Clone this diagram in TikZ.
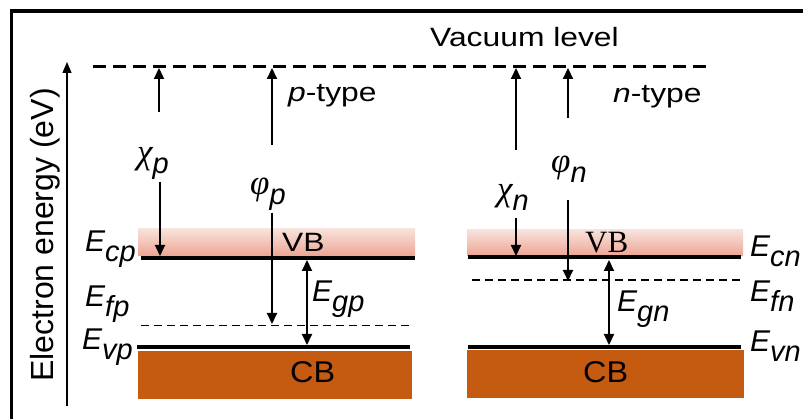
\documentclass[tikz,border=0pt]{standalone}
\usepackage{fontspec}
\setmainfont{Liberation Sans}
\newfontfamily\serifgr{Liberation Serif}
\usetikzlibrary{arrows.meta}
\definecolor{cbcol}{HTML}{C55A11}
\definecolor{vbtop}{HTML}{F8E2DB}
\definecolor{vbbot}{HTML}{EDA594}
\newcommand{\hst}[1]{\scalebox{1.2}[1]{#1}}
\newcommand{\elab}[1]{\fontsize{30}{30}\selectfont\itshape E\raisebox{-9.5pt}{\fontsize{29}{29}\selectfont #1}}
\newcommand{\glab}[2]{\fontsize{29}{29}\selectfont{\fontsize{35}{35}\selectfont\serifgr\itshape #1}\raisebox{-9.5pt}{\itshape #2}}
\tikzset{
  txt/.style={inner sep=0pt, anchor=base west},
  sanslab/.style={txt, font=\fontsize{26.5}{30}\selectfont},
  band/.style={line width=4pt},
  fermi/.style={line width=1.3pt, dash pattern=on 8pt off 5pt},
  vac/.style={line width=3.5pt, dash pattern=on 13pt off 7pt},
  arr/.style={line width=2pt, -{Triangle[length=11pt,width=10pt]}},
  darr/.style={line width=2pt, {Triangle[length=11pt,width=10pt]}-{Triangle[length=11pt,width=10pt]}},
  vbshade/.style={top color=vbtop, bottom color=vbbot, draw=none},
  cbbox/.style={fill=cbcol, draw=none}
}
\begin{document}
\begin{tikzpicture}[x=1pt,y=-1pt]
\useasboundingbox (0,0) rectangle (803,419);
% frame
\draw[line width=3.3pt] (11.3,419) -- (11.3,11) -- (803,11);
% axis
\coordinate (ax0) at (67,406);
\coordinate (ax1) at (67,62);
\draw[line width=1.3pt, -{Triangle[length=11pt,width=9pt]}] (ax0) -- (ax1);
\node[rotate=90, anchor=base, inner sep=0pt, font=\fontsize{32}{32}\selectfont] (ylab) at (53,235) {Electron energy (eV)};
% vacuum level
\coordinate (vac0) at (93,66.7);
\coordinate (vac1) at (710,66.7);
\draw[vac] (vac0) -- (vac1);
\node[sanslab] (vaclab) at (430,47) {\hst{Vacuum level}};
\node[sanslab] (ptype) at (288,102) {\hst{\textit{p}-type}};
\node[sanslab] (ntype) at (613,103) {\hst{\textit{n}-type}};

% ---- p-type bands
\shade[vbshade] (138,229) rectangle (415,256);
\fill[cbbox] (138,351) rectangle (412,399);
\coordinate (ecp0) at (141,258); \coordinate (ecp1) at (415,258);
\coordinate (efp0) at (141,325.5); \coordinate (efp1) at (410,325.5);
\coordinate (evp0) at (137,347); \coordinate (evp1) at (410,347);
\draw[band] (ecp0) -- (ecp1);
\draw[fermi] (efp0) -- (efp1);
\draw[band] (evp0) -- (evp1);
\node[sanslab] (vbp) at (282,252) {\hst{VB}};
\node[txt, font=\fontsize{30}{30}\selectfont] (cbp) at (290,382) {\scalebox{1.08}[1]{CB}};
\node[txt] (Ecp) at (85,252) {\elab{cp}};
\node[txt] (Efp) at (85,307) {\elab{fp}};
\node[txt] (Evp) at (82,350) {\elab{vp}};
\node[txt] (Egp) at (312,302) {\elab{gp}};
\node[txt] (chip) at (137,164) {\glab{χ}{p}};
\node[txt] (phip) at (250,195) {\glab{φ}{p}};
% p arrows
\coordinate (cpu0) at (159,112); \coordinate (cpu1) at (159,68);
\coordinate (cpd0) at (160,182); \coordinate (cpd1) at (160,256);
\coordinate (fpu0) at (272,145); \coordinate (fpu1) at (272,68);
\coordinate (fpd0) at (272,213); \coordinate (fpd1) at (272,324);
\coordinate (gp0) at (307,260); \coordinate (gp1) at (307,345);
\draw[arr] (cpu0) -- (cpu1);
\draw[arr] (cpd0) -- (cpd1);
\draw[arr] (fpu0) -- (fpu1);
\draw[arr] (fpd0) -- (fpd1);
\draw[darr] (gp0) -- (gp1);

% ---- n-type bands
\shade[vbshade] (467,230) rectangle (743,256);
\fill[cbbox] (467,350) rectangle (744,398);
\coordinate (ecn0) at (468,257.5); \coordinate (ecn1) at (741,257.5);
\coordinate (efn0) at (472,280); \coordinate (efn1) at (742,280);
\coordinate (evn0) at (468,347); \coordinate (evn1) at (741,347);
\draw[band] (ecn0) -- (ecn1);
\draw[fermi] (efn0) -- (efn1);
\draw[band] (evn0) -- (evn1);
\node[txt, font=\fontsize{31}{31}\selectfont\serifgr] (vbn) at (585,253) {VB};
\node[txt, font=\fontsize{30}{30}\selectfont] (cbn) at (583,382) {\scalebox{1.08}[1]{CB}};
\node[txt] (Ecn) at (750,257) {\elab{cn}};
\node[txt] (Efn) at (750,302) {\elab{fn}};
\node[txt] (Evn) at (750,352) {\elab{vn}};
\node[txt] (Egn) at (617,312) {\elab{gn}};
\node[txt] (chin) at (497,201) {\glab{χ}{n}};
\node[txt] (phin) at (551,173) {\glab{φ}{n}};
% n arrows
\coordinate (cnu0) at (516,150); \coordinate (cnu1) at (516,68);
\coordinate (cnd0) at (516,218); \coordinate (cnd1) at (516,256);
\coordinate (fnu0) at (568,118); \coordinate (fnu1) at (568,68);
\coordinate (fnd0) at (568,200); \coordinate (fnd1) at (568,281);
\coordinate (gn0) at (609,260); \coordinate (gn1) at (609,345);
\draw[arr] (cnu0) -- (cnu1);
\draw[arr] (cnd0) -- (cnd1);
\draw[arr] (fnu0) -- (fnu1);
\draw[arr] (fnd0) -- (fnd1);
\draw[darr] (gn0) -- (gn1);
\end{tikzpicture}
\end{document}
